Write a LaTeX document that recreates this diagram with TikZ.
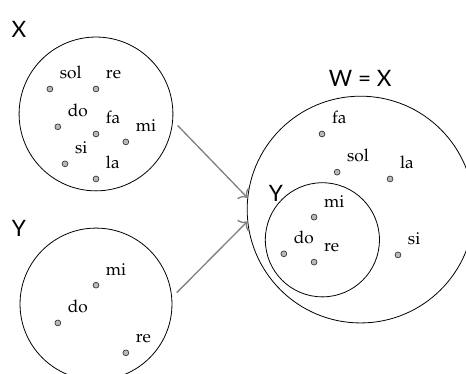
\documentclass[tikz,border=0pt]{standalone}
\usepackage[T1]{fontenc}
\usepackage{mathpazo}
\usepackage{fontspec}
\newfontfamily\setfont{Lato}
\usetikzlibrary{arrows.meta}
\tikzset{
  setcircle/.style={draw,circle,line width=0.6pt,inner sep=0pt},
  elem/.style={circle,draw=black!80,fill=gray!55,line width=0.5pt,inner sep=0pt,minimum size=4.4pt},
  elemlbl/.style={font=\fontencoding{T1}\fontfamily{pplx}\fontsize{13}{15}\selectfont,inner sep=1pt},
  setname/.style={font=\setfont\fontsize{17}{20}\selectfont,inner sep=0pt},
  mapsto/.style={gray,line width=1pt,-{To[length=5pt,width=12pt]},shorten <=5pt}
}
\begin{document}
\begin{tikzpicture}[every label/.style={elemlbl},label distance=6.5pt]
\useasboundingbox (0,0) rectangle (12.33,9.895);
% the sets
\node[setcircle,minimum size=4.07cm] (X) at (2.54,6.88) {};
\node[setcircle,minimum size=4.02cm] (Y) at (2.54,1.85) {};
\node[setcircle,minimum size=6.0cm] (W) at (9.54,4.35) {};
\node[setcircle,minimum size=3.02cm] (WY) at (8.53,3.55) {};
\node[setname] (Xname) at (0.50,9.13) {X};
\node[setname] (Yname) at (0.50,3.84) {Y};
\node[setname] (Wname) at (9.53,7.83) {W = X};
\node[setname] (WYname) at (7.30,4.79) {Y};
% elements of X
\node[elem,label=45:sol] (x-sol) at (1.32,7.54) {};
\node[elem,label=45:re] (x-re) at (2.54,7.54) {};
\node[elem,label=45:do] (x-do) at (1.53,6.54) {};
\node[elem,label=45:fa] (x-fa) at (2.54,6.35) {};
\node[elem,label=45:mi] (x-mi) at (3.33,6.14) {};
\node[elem,label=45:si] (x-si) at (1.72,5.56) {};
\node[elem,label=45:la] (x-la) at (2.54,5.16) {};
% elements of Y
\node[elem,label=45:mi] (y-mi) at (2.54,2.35) {};
\node[elem,label=45:do] (y-do) at (1.53,1.35) {};
\node[elem,label=45:re] (y-re) at (3.33,0.56) {};
% elements of W
\node[elem,label=45:fa] (w-fa) at (8.52,6.35) {};
\node[elem,label=45:sol] (w-sol) at (8.92,5.34) {};
\node[elem,label=45:la] (w-la) at (10.32,5.16) {};
\node[elem,label=45:mi] (w-mi) at (8.31,4.15) {};
\node[elem,label=45:do] (w-do) at (7.51,3.18) {};
\node[elem,label=45:re] (w-re) at (8.31,2.96) {};
\node[elem,label=45:si] (w-si) at (10.53,3.15) {};
% maps
\draw[mapsto] (X.-5) -- (W.174);
\draw[mapsto] (Y.5) -- (W.186);
\end{tikzpicture}
\end{document}
